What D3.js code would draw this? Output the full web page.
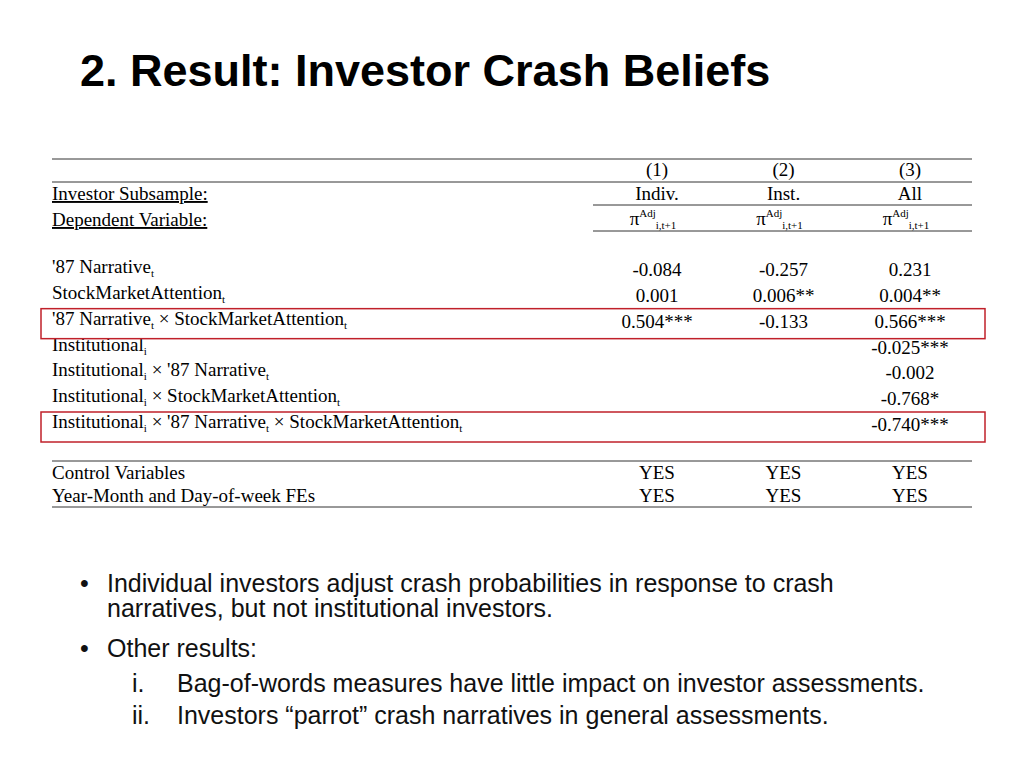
<!DOCTYPE html>
<html><head><meta charset="utf-8">
<script src="https://cdn.jsdelivr.net/npm/d3@7"></script>
<style>body{margin:0;background:#fff}</style></head>
<body><svg id="slide" width="1024" height="768"></svg>
<script>
const columns = ["(1)", "(2)", "(3)"];
const subsamples = ["Indiv.", "Inst.", "All"];
// label pieces: [text, subscript]
const rowLabels = [
  [["'87 Narrative", "t"]],
  [["StockMarketAttention", "t"]],
  [["'87 Narrative", "t"], [" × StockMarketAttention", "t"]],
  [["Institutional", "i"]],
  [["Institutional", "i"], [" × '87 Narrative", "t"]],
  [["Institutional", "i"], [" × StockMarketAttention", "t"]],
  [["Institutional", "i"], [" × '87 Narrative", "t"], [" × StockMarketAttention", "t"]]
];
const col1 = ["-0.084", "0.001", "0.504***", "", "", "", ""];
const col2 = ["-0.257", "0.006**", "-0.133", "", "", "", ""];
const col3 = ["0.231", "0.004**", "0.566***", "-0.025***", "-0.002", "-0.768*", "-0.740***"];
const highlighted = [2, 6];
const controlLabels = ["Control Variables", "Year-Month and Day-of-week FEs"];
const controlValues = [["YES", "YES", "YES"], ["YES", "YES", "YES"]];
const bullets = [
  {lines: ["Individual investors adjust crash probabilities in response to crash", "narratives, but not institutional investors."]},
  {lines: ["Other results:"], sub: [["i.", "Bag-of-words measures have little impact on investor assessments."], ["ii.", "Investors “parrot” crash narratives in general assessments."]]}
];

const svg = d3.select("#slide");
const serif = "'Liberation Serif', 'Times New Roman', serif";
const sans = "'Liberation Sans', Arial, sans-serif";
const sx = 1.0;

svg.append("text").attr("x", 80).attr("y", 86).attr("font-family", sans)
  .attr("font-weight", "bold").attr("font-size", 45).text("2. Result: Investor Crash Beliefs");

const x = d3.scalePoint().domain(columns).range([657, 910]);
const yRow = d3.scaleLinear().domain([0, rowLabels.length - 1]).range([276, 431]);
const yCtl = d3.scaleLinear().domain([0, 1]).range([479, 502]);

const tbl = svg.append("g").attr("transform", `scale(${sx},1)`).attr("font-family", serif).attr("font-size", 19);
const hline = (y, x1, x2) => svg.append("line").attr("x1", x1).attr("x2", x2).attr("y1", y).attr("y2", y)
  .attr("stroke", "#333").attr("stroke-width", 1);
hline(159, 52, 972); hline(182, 52, 972); hline(205, 593, 972); hline(231, 593, 972);
hline(461, 52, 972); hline(507, 52, 972);

const cell = (xx, y, t, anchor) => tbl.append("text").attr("x", xx / sx).attr("y", y)
  .attr("text-anchor", anchor || "middle").text(t);

columns.forEach((c, i) => {
  cell(x(c), 176, c);
  cell(x(c), 200, subsamples[i]);
  const t = tbl.append("text").attr("x", x(c) / sx - 4).attr("y", 225).attr("text-anchor", "middle");
  t.append("tspan").text("π");
  t.append("tspan").attr("font-size", 11).attr("dy", -8).text("Adj");
  t.append("tspan").attr("font-size", 11).attr("dy", 12).text("i,t+1");
});
cell(52, 200, "Investor Subsample:", "start").attr("text-decoration", "underline");
cell(52, 226, "Dependent Variable:", "start").attr("text-decoration", "underline");

highlighted.forEach(r => svg.append("rect").attr("x", 41).attr("y", yRow(r) - 19)
  .attr("width", 944).attr("height", 30).attr("fill", "none").attr("stroke", "#c0202a").attr("stroke-width", 1.5));

rowLabels.forEach((pieces, r) => {
  const t = tbl.append("text").attr("x", 52 / sx).attr("y", yRow(r) + 1);
  pieces.forEach(([txt, sub]) => {
    t.append("tspan").attr("dy", t.selectAll("tspan").size() ? -4 : 0).attr("font-size", 19).text(txt);
    t.append("tspan").attr("dy", 4).attr("font-size", 11).text(sub);
  });
  [col1, col2, col3].forEach((col, i) => { if (col[r]) cell(x(columns[i]), yRow(r), col[r]); });
});

controlLabels.forEach((l, r) => {
  cell(52, yCtl(r), l, "start");
  controlValues[r].forEach((v, i) => cell(x(columns[i]), yCtl(r), v));
});

const bl = svg.append("g").attr("font-family", sans).attr("font-size", 25).attr("fill", "#111");
let by = 592;
bullets.forEach(b => {
  bl.append("text").attr("x", 80).attr("y", by).text("•");
  b.lines.forEach(line => { bl.append("text").attr("x", 107).attr("y", by).text(line); by += 25; });
  if (b.sub) {
    by += 10;
    b.sub.forEach(([n, txt]) => {
      bl.append("text").attr("x", 132).attr("y", by).text(n);
      bl.append("text").attr("x", 177).attr("y", by).text(txt);
      by += 32;
    });
  }
  by += 15;
});
</script></body></html>
